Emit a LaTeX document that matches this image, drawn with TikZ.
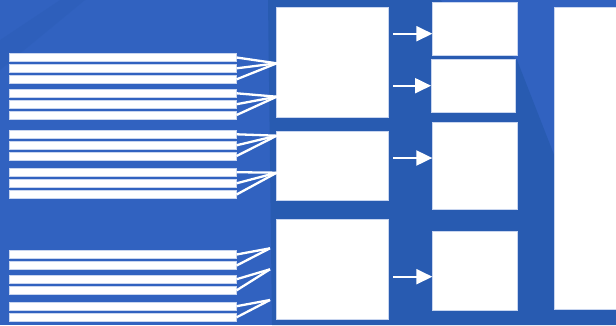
\documentclass[tikz,border=0pt]{standalone}
\usetikzlibrary{arrows.meta}
\definecolor{bglight}{HTML}{3162C0}
\definecolor{bgdark}{HTML}{285BB1}
\definecolor{edge}{HTML}{C8D5EF}
\tikzset{
  bar/.style={draw=edge, fill=white, line width=0.6pt, inner sep=0pt, anchor=west, minimum width=227pt, minimum height=7.8pt},
  block/.style={draw=edge, fill=white, line width=0.6pt, inner sep=0pt},
  fan/.style={white, line width=2.3pt},
  link/.style={white, line width=2pt, -{Triangle[length=16pt, width=15pt]}}
}
\begin{document}
\begin{tikzpicture}[x=1pt, y=-1pt]
  \useasboundingbox (0,0) rectangle (616,325);
  \clip (0,0) rectangle (616,325);
  % background
  \fill[bglight] (0,0) rectangle (616,325);
  \fill[bgdark] (268,0) -- (440,0) -- (517,60) -- (560,170) -- (616,230) -- (616,325) -- (272,325) -- cycle;
  \fill[bgdark, opacity=0.3] (0,70) -- (0,40) -- (60,0) -- (85,0) -- cycle;

  % input bars
  \foreach \y [count=\i] in {57.5,68.3,79.3,93.3,104.2,115,134.3,145.3,156,172.2,183.3,194.5,254.5,265.5,279.2,290.3,306.2,317.3}
    \node[bar] (b\i) at (9,\y) {};

  % blocks
  \node[block, minimum width=112.7pt, minimum height=110pt] (inA) at (332.3,62.3) {};
  \node[block, minimum width=112.7pt, minimum height=68.3pt] (inB) at (332.3,165.8) {};
  \node[block, minimum width=112.7pt, minimum height=100pt] (inC) at (332.3,269.3) {};
  \node[block, minimum width=84.3pt, minimum height=53.3pt] (outA) at (474.8,28.7) {};
  \node[block, minimum width=84.3pt, minimum height=53.3pt] (outB) at (473.5,85.7) {};
  \node[block, minimum width=84.3pt, minimum height=86.7pt] (outC) at (474.8,165.7) {};
  \node[block, minimum width=84.3pt, minimum height=79pt] (outD) at (474.8,270.8) {};
  \node[block, minimum width=80pt, minimum height=302pt, anchor=north west] (total) at (553.7,7.3) {};

  % fan-in points
  \coordinate (f1) at (276.7,63.3);
  \coordinate (f2) at (276.7,96.7);
  \coordinate (f3) at (276.7,135.7);
  \coordinate (f4) at (276.7,172.7);
  \coordinate (f5) at (270,248.3);
  \coordinate (f6) at (270,269.3);
  \coordinate (f7) at (270,300);
  \foreach \i/\f in {1/1,2/1,3/1,4/2,5/2,6/2,7/3,8/3,9/3,10/4,11/4,12/4,13/5,14/5,15/6,16/6,17/7,18/7}
    \draw[fan] (b\i.east) -- (f\f);

  % arrows
  \coordinate (a1) at (393,33.7);
  \coordinate (a2) at (393,85.7);
  \coordinate (a3) at (393,158);
  \coordinate (a4) at (393,276.7);
  \draw[link] (a1) -- (a1 -| outA.west);
  \draw[link] (a2) -- (a2 -| outB.west);
  \draw[link] (a3) -- (a3 -| outC.west);
  \draw[link] (a4) -- (a4 -| outD.west);
\end{tikzpicture}
\end{document}
